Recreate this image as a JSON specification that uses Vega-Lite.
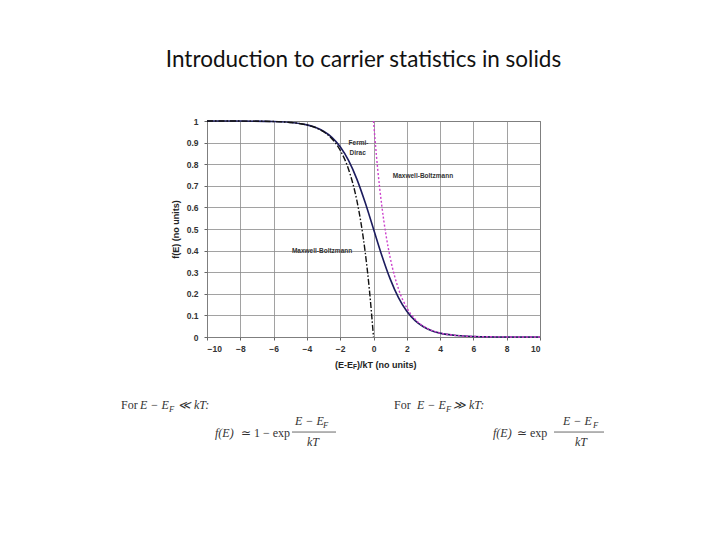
{
  "$schema": "https://vega.github.io/schema/vega-lite/v6.json",
  "width": 333,
  "height": 216,
  "autosize": {"type": "none"},
  "padding": {"left": 207, "top": 121, "right": 180, "bottom": 203},
  "background": "white",
  "title": {
    "text": "Introduction to carrier statistics in solids",
    "font": "Lato",
    "fontSize": 22.5,
    "fontWeight": "normal",
    "color": "#111",
    "anchor": "middle",
    "offset": 46,
    "dx": -10
  },
  "config": {
    "view": {"stroke": "#555", "strokeWidth": 1},
    "axis": {
      "labelFont": "Liberation Sans",
      "labelFontSize": 8.5,
      "labelFontWeight": "bold",
      "labelColor": "#333",
      "titleFont": "Liberation Sans",
      "titleFontSize": 9,
      "titleFontWeight": "bold",
      "titleColor": "#222",
      "gridColor": "#8a8a8a",
      "gridWidth": 0.8,
      "gridOpacity": 1,
      "domain": false,
      "tickColor": "#666",
      "tickSize": 3
    }
  },
  "encoding": {
    "x": {
      "field": "x",
      "type": "quantitative",
      "scale": {"domain": [-10, 10], "nice": false, "zero": false},
      "axis": {
        "values": [-10, -8, -6, -4, -2, 0, 2, 4, 6, 8, 10],
        "format": "d",
        "title": null,
        "labelPadding": 4
      }
    },
    "y": {
      "field": "y",
      "type": "quantitative",
      "scale": {"domain": [0, 1], "nice": false},
      "axis": {
        "values": [0, 0.1, 0.2, 0.3, 0.4, 0.5, 0.6, 0.7, 0.8, 0.9, 1],
        "format": "~g",
        "title": "f(E) (no units)",
        "labelPadding": 6,
        "titlePadding": 6
      }
    }
  },
  "layer": [
    {
      "data": {
        "values": [
          {"x": -10, "y": 0.99995}, {"x": -8, "y": 0.99966}, {"x": -6, "y": 0.99753},
          {"x": -5, "y": 0.99331}, {"x": -4, "y": 0.98201}, {"x": -3.5, "y": 0.97069},
          {"x": -3, "y": 0.95257}, {"x": -2.5, "y": 0.92414}, {"x": -2, "y": 0.8808},
          {"x": -1.5, "y": 0.81757}, {"x": -1, "y": 0.73106}, {"x": -0.5, "y": 0.62246},
          {"x": 0, "y": 0.5}, {"x": 0.5, "y": 0.37754}, {"x": 1, "y": 0.26894},
          {"x": 1.5, "y": 0.18243}, {"x": 2, "y": 0.1192}, {"x": 2.5, "y": 0.07586},
          {"x": 3, "y": 0.04743}, {"x": 3.5, "y": 0.02931}, {"x": 4, "y": 0.01799},
          {"x": 5, "y": 0.00669}, {"x": 6, "y": 0.00247}, {"x": 8, "y": 0.00034},
          {"x": 10, "y": 0.00005}
        ]
      },
      "mark": {"type": "line", "color": "#1c1c5e", "strokeWidth": 1.6, "interpolate": "monotone"}
    },
    {
      "data": {
        "values": [
          {"x": -10, "y": 0.99995}, {"x": -8, "y": 0.99966}, {"x": -6, "y": 0.99752},
          {"x": -5, "y": 0.99326}, {"x": -4, "y": 0.98168}, {"x": -3.5, "y": 0.9698},
          {"x": -3, "y": 0.95021}, {"x": -2.5, "y": 0.91792}, {"x": -2, "y": 0.86466},
          {"x": -1.5, "y": 0.77687}, {"x": -1, "y": 0.63212}, {"x": -0.75, "y": 0.52763},
          {"x": -0.5, "y": 0.39347}, {"x": -0.25, "y": 0.2212}, {"x": 0, "y": 0}
        ]
      },
      "mark": {"type": "line", "color": "#111", "strokeWidth": 1.4, "strokeDash": [6, 2, 1.5, 2], "interpolate": "monotone"}
    },
    {
      "data": {
        "values": [
          {"x": 0, "y": 1}, {"x": 0.25, "y": 0.7788}, {"x": 0.5, "y": 0.60653},
          {"x": 0.75, "y": 0.47237}, {"x": 1, "y": 0.36788}, {"x": 1.5, "y": 0.22313},
          {"x": 2, "y": 0.13534}, {"x": 2.5, "y": 0.08208}, {"x": 3, "y": 0.04979},
          {"x": 3.5, "y": 0.0302}, {"x": 4, "y": 0.01832}, {"x": 5, "y": 0.00674},
          {"x": 6, "y": 0.00248}, {"x": 8, "y": 0.00034}, {"x": 10, "y": 0.00005}
        ]
      },
      "mark": {"type": "line", "color": "#cc40cc", "strokeWidth": 1.4, "strokeDash": [2, 2], "interpolate": "monotone"}
    },
    {
      "data": {
        "values": [
          {"x": -0.9, "y": 0.898, "label": "Fermi-"},
          {"x": -0.95, "y": 0.852, "label": "Dirac"},
          {"x": 2.97, "y": 0.745, "label": "Maxwell-Boltzmann"},
          {"x": -3.09, "y": 0.398, "label": "Maxwell-Boltzmann"}
        ]
      },
      "mark": {"type": "text", "font": "Liberation Sans", "fontSize": 6.5, "fontWeight": "bold", "color": "#333", "align": "center", "baseline": "middle"},
      "encoding": {"text": {"field": "label"}}
    },
    {
      "data": {
        "values": [
          {"x": -2.312, "y": -0.1296, "label": "(E-E"},
          {"x": -0.991, "y": -0.1296, "label": ")/kT (no units)"}
        ]
      },
      "mark": {"type": "text", "font": "Liberation Sans", "fontSize": 9, "fontWeight": "bold", "color": "#222", "align": "left", "baseline": "middle"},
      "encoding": {"text": {"field": "label"}}
    },
    {
      "data": {"values": [{"x": -1.231, "y": -0.141, "label": "F"}]},
      "mark": {"type": "text", "font": "Liberation Sans", "fontSize": 6.5, "fontWeight": "bold", "color": "#222", "align": "left", "baseline": "middle"},
      "encoding": {"text": {"field": "label"}}
    },
    {
      "data": {
        "values": [
          {"x": -15.165, "y": -0.315, "label": "For"},
          {"x": 1.231, "y": -0.315, "label": "For"},
          {"x": -7.958, "y": -0.444, "label": "\u2243 1 \u2212 exp"},
          {"x": 8.619, "y": -0.444, "label": "\u2243 exp"}
        ]
      },
      "mark": {"type": "text", "font": "Liberation Serif", "fontSize": 12, "color": "#333", "align": "left", "baseline": "middle"},
      "encoding": {"text": {"field": "label"}}
    },
    {
      "data": {
        "values": [
          {"x": -14.024, "y": -0.315, "label": "E \u2212 E"},
          {"x": -11.742, "y": -0.315, "label": "\u226a kT:"},
          {"x": 2.613, "y": -0.315, "label": "E \u2212 E"},
          {"x": 4.775, "y": -0.315, "label": "\u226b kT:"},
          {"x": -9.52, "y": -0.444, "label": "f(E)"},
          {"x": 7.177, "y": -0.444, "label": "f(E)"},
          {"x": -4.715, "y": -0.389, "label": "E \u2212 E"},
          {"x": 11.381, "y": -0.389, "label": "E \u2212 E"}
        ]
      },
      "mark": {"type": "text", "font": "Liberation Serif", "fontSize": 12, "fontStyle": "italic", "color": "#333", "align": "left", "baseline": "middle"},
      "encoding": {"text": {"field": "label"}}
    },
    {
      "data": {
        "values": [
          {"x": -3.634, "y": -0.486, "label": "kT"},
          {"x": 12.462, "y": -0.486, "label": "kT"}
        ]
      },
      "mark": {"type": "text", "font": "Liberation Serif", "fontSize": 12, "fontStyle": "italic", "color": "#333", "align": "center", "baseline": "middle"},
      "encoding": {"text": {"field": "label"}}
    },
    {
      "data": {
        "values": [
          {"x": -12.282, "y": -0.333, "label": "F"},
          {"x": 4.354, "y": -0.333, "label": "F"},
          {"x": -3.033, "y": -0.407, "label": "F"},
          {"x": 13.183, "y": -0.407, "label": "F"}
        ]
      },
      "mark": {"type": "text", "font": "Liberation Serif", "fontSize": 8.5, "fontStyle": "italic", "color": "#333", "align": "left", "baseline": "middle"},
      "encoding": {"text": {"field": "label"}}
    },
    {
      "data": {
        "values": [
          {"x": -4.895, "x2": -2.252, "y": -0.44},
          {"x": 10.841, "x2": 13.844, "y": -0.44}
        ]
      },
      "mark": {"type": "rule", "color": "#444", "strokeWidth": 0.8},
      "encoding": {"x2": {"field": "x2"}}
    }
  ]
}
